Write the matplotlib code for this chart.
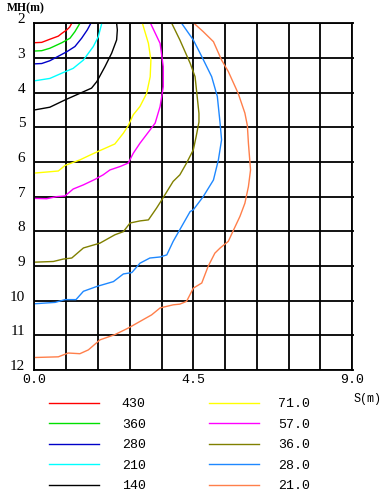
import matplotlib
matplotlib.use("Agg")
import matplotlib.pyplot as plt

# ---------------------------------------------------------------------------
# Data: iso-lines, S (m) against MH (m)
# ---------------------------------------------------------------------------

LEVELS = ["430", "360", "280", "210", "140", "71.0", "57.0", "36.0", "28.0", "21.0"]
COLORS = ["#ff0000", "#00e000", "#0000c8", "#00ffff", "#000000",
          "#ffff00", "#ff00ff", "#808000", "#1e88ff", "#ff7f4a"]

s_430  = [0, 0.21, 0.44, 0.68, 0.78, 0.92, 1.00, 1.06]
mh_430 = [2.56, 2.55, 2.46, 2.37, 2.29, 2.19, 2.11, 2.0]

s_360  = [0, 0.21, 0.44, 0.78, 1.01, 1.15, 1.29]
mh_360 = [2.80, 2.79, 2.72, 2.56, 2.43, 2.24, 2.0]

s_280  = [0, 0.21, 0.44, 0.92, 1.15, 1.34, 1.50, 1.60]
mh_280 = [3.17, 3.16, 3.08, 2.82, 2.67, 2.43, 2.19, 2.0]

s_210  = [0, 0.44, 0.82, 1.10, 1.39, 1.67, 1.81, 1.91]
mh_210 = [3.66, 3.59, 3.42, 3.30, 3.06, 2.67, 2.39, 2.0]

s_140  = [0, 0.44, 0.87, 1.29, 1.62, 1.77, 2.00, 2.19, 2.33, 2.35, 2.33]
mh_140 = [4.50, 4.42, 4.21, 4.02, 3.87, 3.68, 3.25, 2.86, 2.48, 2.19, 2.0]

s_71  = [0, 0.35, 0.68, 0.87, 1.29, 1.58, 1.86, 2.28, 2.52, 2.66, 2.80, 2.99,
         3.18, 3.28, 3.30, 3.23, 3.06]
mh_71 = [6.32, 6.29, 6.26, 6.10, 5.94, 5.80, 5.67, 5.48, 5.17, 4.95, 4.64, 4.40,
         4.02, 3.54, 3.06, 2.58, 2.0]

s_57  = [0, 0.35, 0.63, 0.87, 1.10, 1.39, 1.72, 1.95, 2.14, 2.43, 2.66, 2.80,
         2.99, 3.28, 3.42, 3.56, 3.65, 3.65, 3.56, 3.29]
mh_57 = [7.05, 7.06, 7.00, 6.98, 6.78, 6.66, 6.50, 6.37, 6.23, 6.13, 6.03, 5.75,
         5.46, 5.07, 4.88, 4.40, 3.83, 3.25, 2.58, 2.0]

s_36  = [0, 0.54, 0.82, 1.06, 1.39, 1.86, 2.28, 2.52, 2.71, 2.99, 3.23, 3.46,
         3.61, 3.93, 4.12, 4.31, 4.50, 4.58, 4.66, 4.66, 4.60, 4.55, 4.41, 4.12, 3.89]
mh_36 = [8.89, 8.87, 8.80, 8.77, 8.48, 8.34, 8.10, 8.01, 7.76, 7.70, 7.67, 7.33,
         7.09, 6.56, 6.37, 6.03, 5.65, 5.27, 4.85, 4.60, 4.02, 3.54, 3.15, 2.48, 2.0]

s_28  = [0, 0.59, 0.87, 1.18, 1.39, 1.77, 2.24, 2.52, 2.76, 2.99, 3.27, 3.56,
         3.75, 3.93, 4.17, 4.41, 4.50, 4.78, 5.07, 5.21, 5.30, 5.26, 5.18, 5.02,
         4.74, 4.50, 4.17]
mh_28 = [10.09, 10.05, 9.97, 9.97, 9.73, 9.59, 9.45, 9.23, 9.19, 8.92, 8.77, 8.74,
         8.68, 8.29, 7.86, 7.43, 7.38, 7.00, 6.52, 5.94, 5.36, 4.90, 4.11, 3.54,
         2.96, 2.48, 2.0]

s_21  = [0, 0.68, 0.96, 1.29, 1.53, 1.86, 2.28, 2.66, 2.99, 3.32, 3.56, 3.93,
         4.12, 4.31, 4.50, 4.74, 4.92, 5.11, 5.26, 5.49, 5.64, 5.82, 5.96, 6.06,
         6.12, 6.06, 6.03, 5.96, 5.77, 5.49, 5.30, 5.07, 4.78, 4.52]
mh_21 = [11.64, 11.62, 11.51, 11.53, 11.42, 11.13, 10.98, 10.79, 10.60, 10.41,
         10.21, 10.12, 10.10, 10.02, 9.64, 9.49, 9.01, 8.63, 8.48, 8.29, 7.96,
         7.57, 7.19, 6.71, 6.23, 5.46, 4.95, 4.59, 4.02, 3.39, 3.06, 2.53, 2.24, 2.0]

CURVES = [(s_430, mh_430), (s_360, mh_360), (s_280, mh_280), (s_210, mh_210),
          (s_140, mh_140), (s_71, mh_71), (s_57, mh_57), (s_36, mh_36),
          (s_28, mh_28), (s_21, mh_21)]

X_GRID = [0.9 * i for i in range(11)]
X_TICKS = [0.0, 4.5, 9.0]
X_TICKLABELS = ["0.0", "4.5", "9.0"]
Y_TICKS = list(range(2, 13))

MONO = "Liberation Mono"
SERIF = "Liberation Serif"

# ---------------------------------------------------------------------------
# Plot
# ---------------------------------------------------------------------------

W, H = 387, 492
fig = plt.figure(figsize=(W / 100, H / 100), dpi=100)
ax = fig.add_axes([34.3 / W, 1 - 370 / H, 318 / W, (370 - 23.3) / H])

for x in X_GRID:
    ax.axvline(x, color="black", lw=1.3, zorder=1)
for y in Y_TICKS:
    ax.axhline(y, color="black", lw=1.3, zorder=1)

handles = []
for (s, mh), col, lab in zip(CURVES, COLORS, LEVELS):
    ln, = ax.plot(s, mh, color=col, lw=1.0, label=lab, zorder=2,
                  solid_joinstyle="round")
    handles.append(ln)

ax.set_xlim(0, 9.0)
ax.set_ylim(12, 2)
for sp in ax.spines.values():
    sp.set_linewidth(1.3)

ax.set_xticks(X_TICKS)
ax.set_xticklabels(X_TICKLABELS, fontfamily=MONO, fontsize=9.5)
ax.set_yticks(Y_TICKS)
ax.set_yticklabels([str(v) for v in Y_TICKS], fontfamily=SERIF, fontsize=11)
ax.tick_params(axis="x", length=0, pad=3)
ax.tick_params(axis="y", left=False, right=True, length=1.5, width=1.3,
               direction="out", pad=5)
for t in ax.get_yticklabels():
    t.set_verticalalignment("baseline")

fig.text(7 / W, 1 - 8 / H, "MH(m)", fontfamily=SERIF, fontsize=8.5,
         fontweight="bold", va="center", ha="left")
fig.text(354 / W, 1 - 399 / H, "S(m)", fontfamily=MONO, fontsize=8.5,
         va="center", ha="left")

# two legend columns, placed separately
leg_kw = dict(frameon=False, loc="upper left", borderpad=0, borderaxespad=0,
              handlelength=3.8, labelspacing=0.63,
              prop={"family": MONO, "size": 9.5})
fig.legend(handles=handles[:5], labels=LEVELS[:5],
           bbox_to_anchor=(49 / W, 1 - 398 / H),
           handletextpad=1.72, **leg_kw)
fig.legend(handles=handles[5:], labels=LEVELS[5:],
           bbox_to_anchor=(209 / W, 1 - 398 / H),
           handletextpad=1.44, **leg_kw)

fig.savefig("out.png", dpi=100)
